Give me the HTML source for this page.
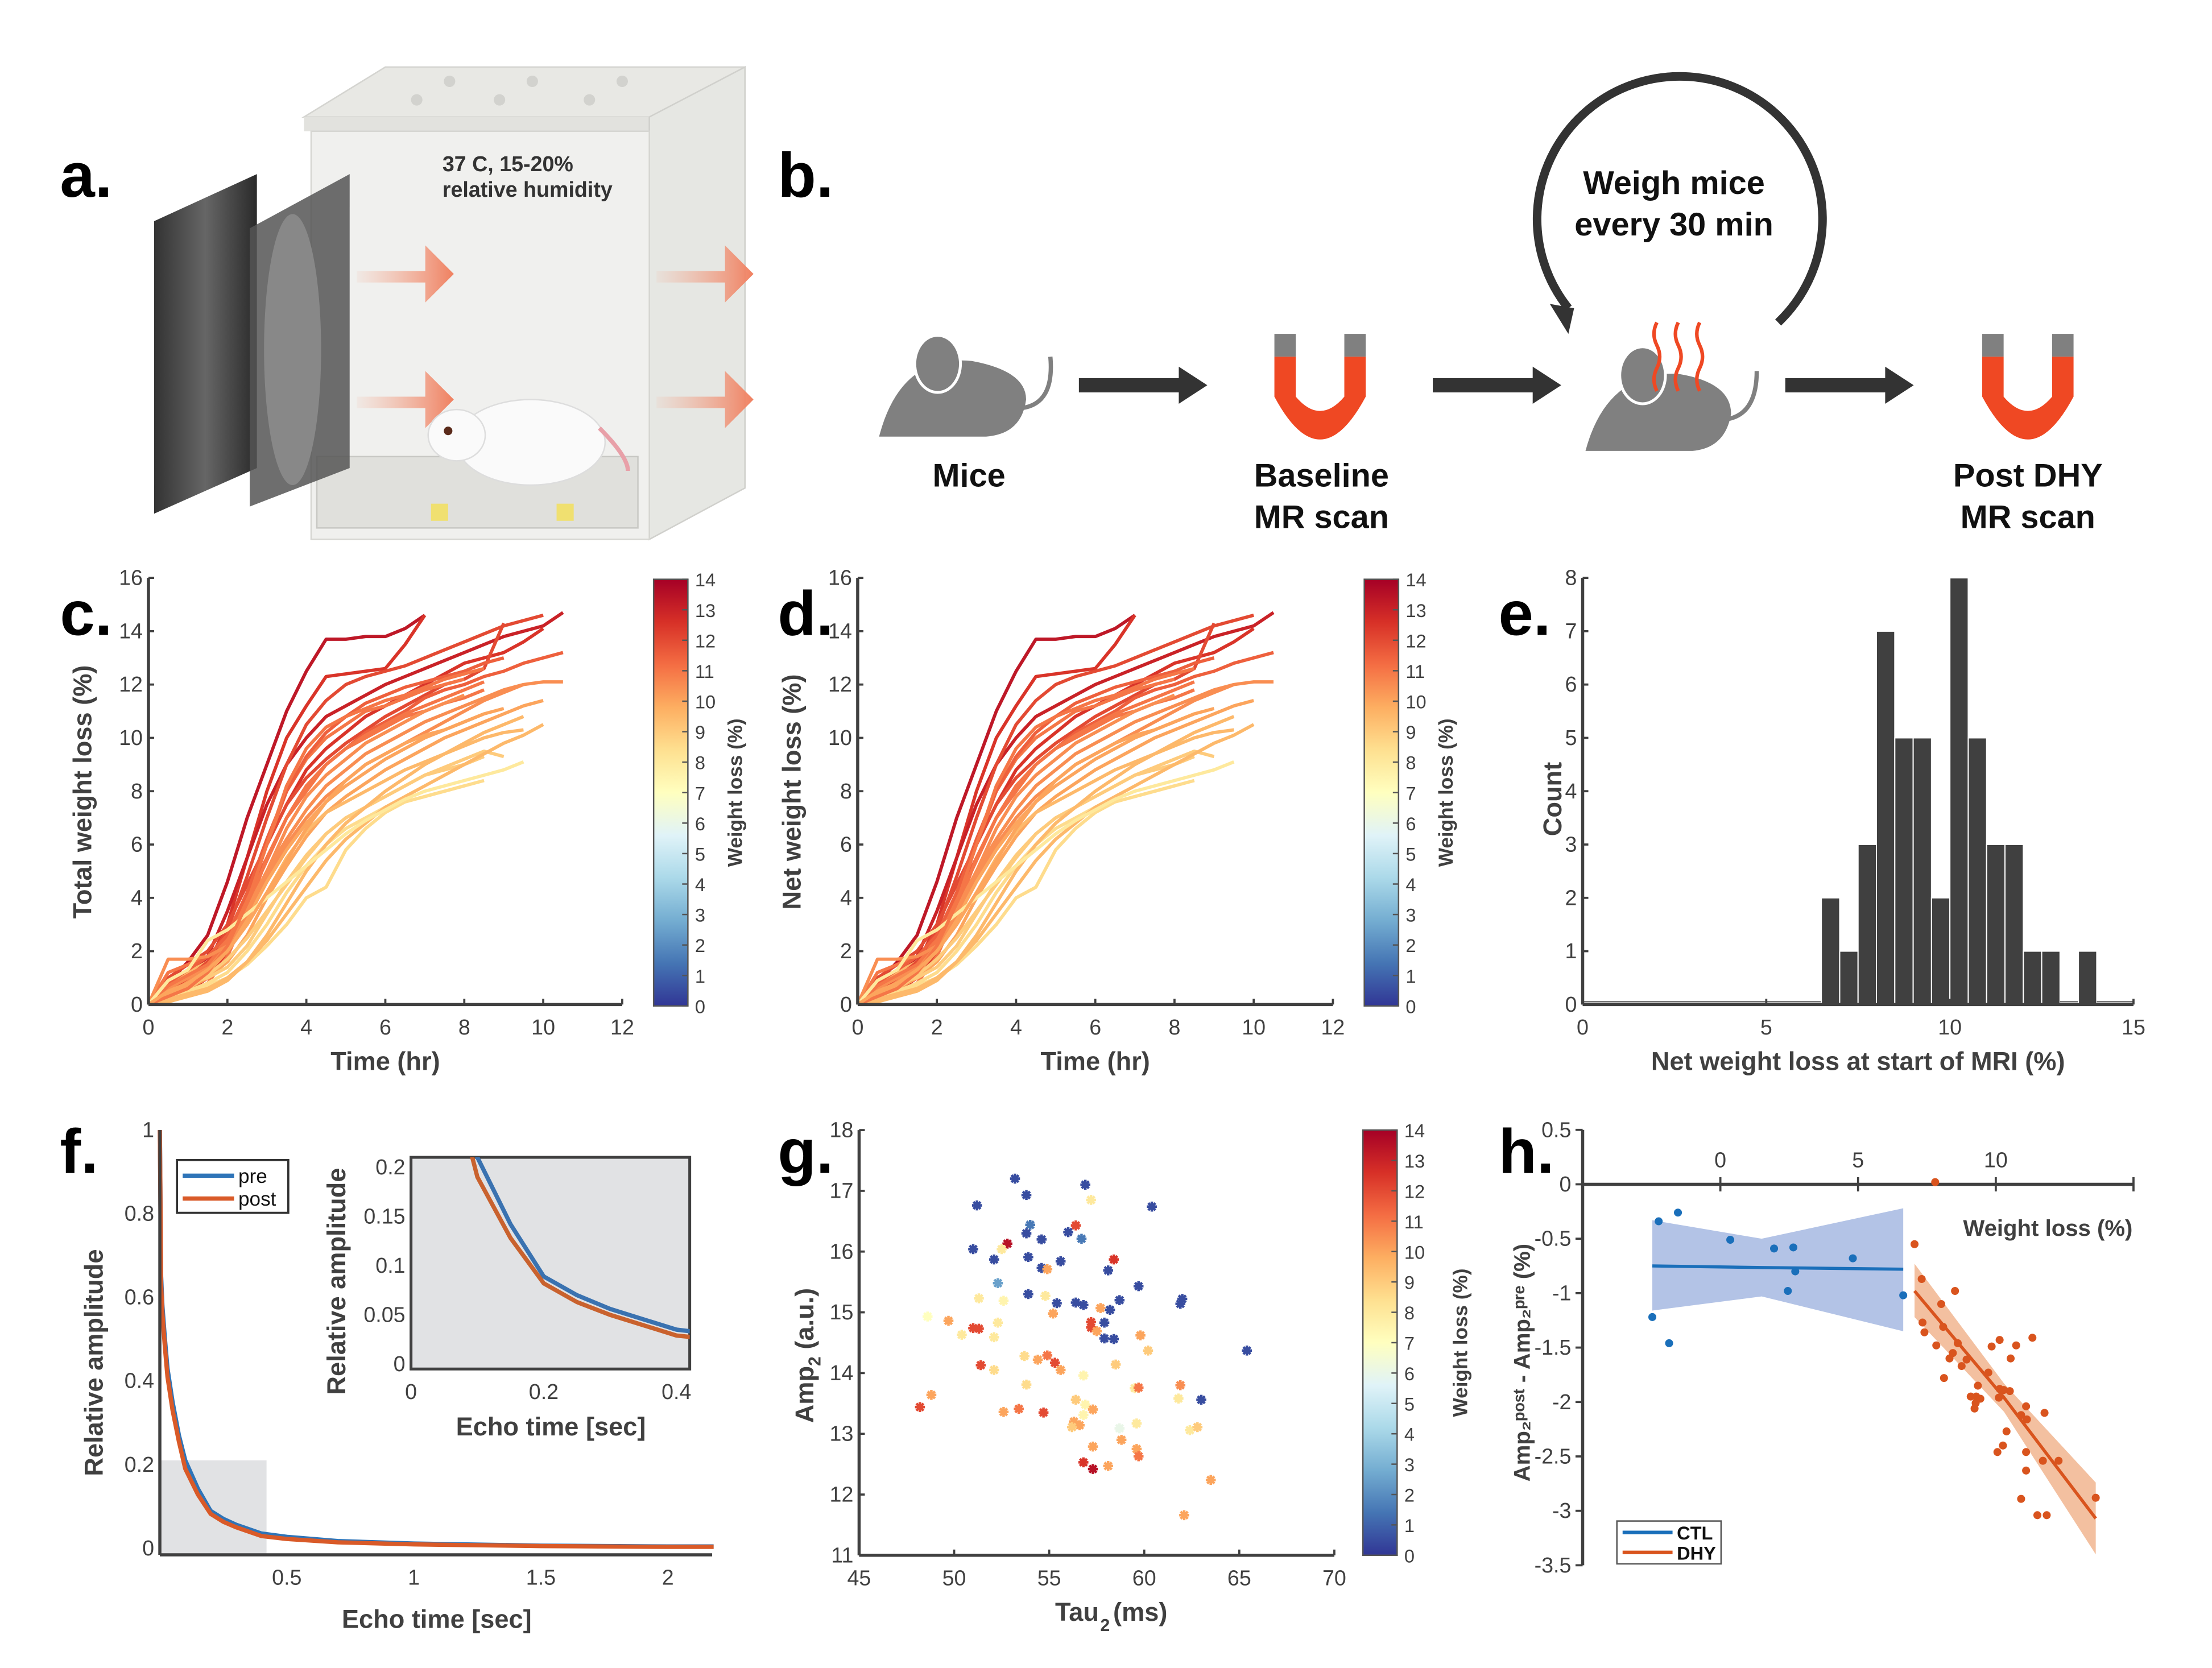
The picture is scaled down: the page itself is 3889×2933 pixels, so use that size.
<!DOCTYPE html>
<html><head><meta charset="utf-8"><style>
html,body{margin:0;padding:0;background:#fff;}
svg{display:block;}
text{font-family:"Liberation Sans Narrow","Liberation Sans",sans-serif;fill:#404040;}
.tk{font-size:15px;}
.lab{font-size:18px;font-weight:bold;font-family:"Liberation Sans",sans-serif;}
.pl{font-size:44px;font-weight:bold;font-family:"Liberation Sans",sans-serif;fill:#000;}
.bt{font-size:23px;font-weight:bold;font-family:"Liberation Sans",sans-serif;fill:#111;}
</style></head><body>
<svg id="fig" xmlns="http://www.w3.org/2000/svg" width="3889" height="2933" viewBox="0 0 1550 1169">
<defs>
<linearGradient id="cmap" x1="0" y1="1" x2="0" y2="0">
<stop offset="0" stop-color="#313695"/><stop offset="0.1" stop-color="#4575b4"/><stop offset="0.2" stop-color="#74add1"/><stop offset="0.3" stop-color="#abd9e9"/><stop offset="0.4" stop-color="#e0f3f8"/><stop offset="0.5" stop-color="#ffffbf"/><stop offset="0.6" stop-color="#fee090"/><stop offset="0.7" stop-color="#fdae61"/><stop offset="0.8" stop-color="#f46d43"/><stop offset="0.9" stop-color="#d73027"/><stop offset="1" stop-color="#a50026"/>
</linearGradient>
<linearGradient id="arrowG" x1="0" x2="1"><stop offset="0" stop-color="#f4a58a" stop-opacity="0.1"/><stop offset="1" stop-color="#f08060"/></linearGradient>
<linearGradient id="fanG" x1="0" x2="1"><stop offset="0" stop-color="#333"/><stop offset="0.5" stop-color="#666"/><stop offset="1" stop-color="#2a2a2a"/></linearGradient>
</defs>

<!-- Panel a -->
<g>
<text class="pl" x="42" y="138">a.</text>
<polygon points="213,82 270,47 522,47 455,82" fill="#e8e8e4" stroke="#d4d4d0"/>
<rect x="213" y="82" width="242" height="10" fill="#e2e2de"/>
<polygon points="455,82 522,47 522,342 455,378" fill="#e6e7e3" stroke="#d0d0cc"/>
<rect x="218" y="92" width="237" height="286" fill="#f0f0ee" stroke="#d6d6d2"/>
<g fill="#d2d2ce"><circle cx="315" cy="57" r="4"/><circle cx="373" cy="57" r="4"/><circle cx="436" cy="57" r="4"/><circle cx="292" cy="70" r="4"/><circle cx="350" cy="70" r="4"/><circle cx="413" cy="70" r="4"/></g>
<rect x="222" y="320" width="225" height="50" fill="#e0e0dc" stroke="#c8c8c4"/>
<rect x="302" y="353" width="12" height="12" fill="#f0e070"/><rect x="390" y="353" width="12" height="12" fill="#f0e070"/>
<polygon points="108,155 180,122 180,328 108,360" fill="url(#fanG)"/>
<polygon points="175,160 245,122 245,328 175,355" fill="#555" opacity="0.85"/>
<ellipse cx="205" cy="245" rx="20" ry="95" fill="#888"/>
<path d="M250,190 L298,190 L298,172 L318,192 L298,212 L298,198 L250,198Z" fill="url(#arrowG)"/>
<path d="M250,278 L298,278 L298,260 L318,280 L298,300 L298,286 L250,286Z" fill="url(#arrowG)"/>
<path d="M460,190 L508,190 L508,172 L528,192 L508,212 L508,198 L460,198Z" fill="url(#arrowG)"/>
<path d="M460,278 L508,278 L508,260 L528,280 L508,300 L508,286 L460,286Z" fill="url(#arrowG)"/>
<ellipse cx="372" cy="310" rx="52" ry="30" fill="#fafafa" stroke="#ddd"/>
<ellipse cx="320" cy="305" rx="20" ry="18" fill="#fafafa" stroke="#ddd"/>
<circle cx="314" cy="302" r="3" fill="#5a2a1a"/>
<path d="M420,300 Q440,320 440,330" stroke="#e8a0a8" stroke-width="3" fill="none"/>
<text x="310" y="120" style="font-size:15px;font-weight:bold;fill:#333">37 C, 15-20%</text>
<text x="310" y="138" style="font-size:15px;font-weight:bold;fill:#333">relative humidity</text>
</g>

<!-- Panel b -->
<g transform="translate(-9,-2)">
<text class="pl" x="554" y="140">b.</text>
<g fill="#808080">
<path d="M625,308 Q640,250 690,255 Q728,262 728,282 Q725,306 700,308 Z"/>
<ellipse cx="666" cy="257" rx="16" ry="20" fill="#808080" stroke="#fff" stroke-width="2"/>
<path d="M725,288 Q748,285 745,252" stroke="#808080" stroke-width="3" fill="none"/>
</g>
<text class="bt" x="688" y="343" text-anchor="middle">Mice</text>
<path d="M765,267 L835,267 L835,259 L855,272 L835,285 L835,277 L765,277Z" fill="#333"/>
<g>
<rect x="902" y="236" width="15" height="16" fill="#808080"/><rect x="951" y="236" width="15" height="16" fill="#808080"/>
<path d="M902,252 L917,252 L917,280 Q934,300 951,280 L951,252 L966,252 L966,280 Q934,340 902,280Z" fill="#ef4823"/>
</g>
<text class="bt" x="935" y="343" text-anchor="middle">Baseline</text>
<text class="bt" x="935" y="372" text-anchor="middle">MR scan</text>
<path d="M1013,267 L1083,267 L1083,259 L1103,272 L1083,285 L1083,277 L1013,277Z" fill="#333"/>
<path d="M1108,218 A100,100 0 1 1 1255,228" stroke="#333" stroke-width="6" fill="none"/>
<polygon points="1095,215 1112,218 1108,236" fill="#333"/>
<text class="bt" x="1182" y="138" text-anchor="middle">Weigh mice</text>
<text class="bt" x="1182" y="167" text-anchor="middle">every 30 min</text>
<g fill="#808080">
<path d="M1120,318 Q1135,262 1185,264 Q1222,270 1222,292 Q1218,316 1195,318 Z"/>
<ellipse cx="1160" cy="265" rx="16" ry="20" stroke="#fff" stroke-width="2"/>
<path d="M1218,296 Q1240,293 1240,262" stroke="#808080" stroke-width="3" fill="none"/>
<path d="M1170,228 q-4,8 0,16 q4,8 0,16 q-4,8 0,16" stroke="#ef4823" stroke-width="2.5" fill="none"/>
<path d="M1185,228 q-4,8 0,16 q4,8 0,16 q-4,8 0,16" stroke="#ef4823" stroke-width="2.5" fill="none"/>
<path d="M1200,228 q-4,8 0,16 q4,8 0,16 q-4,8 0,16" stroke="#ef4823" stroke-width="2.5" fill="none"/>
</g>
<path d="M1260,267 L1330,267 L1330,259 L1350,272 L1330,285 L1330,277 L1260,277Z" fill="#333"/>
<g>
<rect x="1398" y="236" width="15" height="16" fill="#808080"/><rect x="1447" y="236" width="15" height="16" fill="#808080"/>
<path d="M1398,252 L1413,252 L1413,280 Q1430,300 1447,280 L1447,252 L1462,252 L1462,280 Q1430,340 1398,280Z" fill="#ef4823"/>
</g>
<text class="bt" x="1430" y="343" text-anchor="middle">Post DHY</text>
<text class="bt" x="1430" y="372" text-anchor="middle">MR scan</text>
</g>

<text class="pl" x="42" y="445">c.</text>
<text class="pl" x="545" y="445">d.</text>
<text class="pl" x="1050" y="445">e.</text>
<text class="pl" x="42" y="822">f.</text>
<text class="pl" x="545" y="822">g.</text>
<text class="pl" x="1050" y="822">h.</text>
<g id="charts"></g>
</svg>
<script>
// ---------- DATA ----------
const halfHourTimes = [0,0.5,1,1.5,2,2.5,3,3.5,4,4.5,5,5.5,6,6.5,7,7.5,8,8.5,9,9.5,10,10.5];
const weightLossLines = [
 [0,0.8,1.6,2.6,4.6,7,9,11,12.5,13.7,13.7,13.8,13.8,14.1,14.6],
 [0,0.3,0.6,1.5,3,5.5,8,10,11.2,12.3,12.4,12.5,12.6,13.5,14.6],
 [0,0.5,1,1.8,3.5,5.5,7.5,9,10,10.8,11.2,11.6,12,12.3,12.6,12.9,13.2,13.5,13.8,14,14.2,14.7],
 [0,0.2,0.5,1,2,4,6,7.5,8.8,9.6,10.2,10.8,11.2,11.6,12,12.4,12.8,13,13.2,13.6,14.1],
 [0,1,1.5,2,3,4.5,6,7.5,8.5,9.2,9.8,10.3,10.8,11.2,11.6,12,12.2,12.6,14.3],
 [0,0.4,0.8,1.5,2.5,4,5.5,7,8.2,9,9.6,10.2,10.6,11,11.5,11.8,12,12.3,12.5,12.8,13,13.2],
 [0,0.2,0.4,0.8,1.8,3.5,5.5,7,8,9,9.6,10,10.4,10.8,11,11.3,11.5,11.8],
 [0,0.5,0.9,1.4,2.2,3.6,5,6.2,7.3,8.2,8.8,9.4,9.8,10.2,10.6,10.9,11.2,11.5,11.8,12],
 [0,0.3,0.6,1,1.6,2.6,4,5.2,6.3,7.2,7.8,8.3,8.8,9.2,9.6,10,10.3,10.6,10.9,11.2,11.4],
 [0,0.6,1.2,1.6,2,3,4.2,5.5,6.5,7.2,7.6,8,8.4,8.8,9.1,9.4,9.7,10,10.2,10.3],
 [0,0.4,0.8,1,1.4,2.2,3.4,4.6,5.6,6.4,7,7.4,7.8,8.2,8.6,8.8,9,9.3],
 [0,0.2,0.5,0.8,1.2,2,3,4.2,5.2,6,6.6,7,7.4,7.6,7.8,8,8.2],
 [0,0.3,0.6,1.1,1.7,2.5,3.5,4.5,5.5,6.4,7,7.4,7.8,8.2,8.6,8.9,9.2,9.5,9.3],
 [0,1.2,1.5,1.8,2.5,4,6,8,9.2,10,10.5,11,11.2,11.5,11.8,12,12.2],
 [0,0.3,0.5,0.7,1,1.5,2.2,3,4,4.4,5.8,6.6,7.2,7.6,7.8,8,8.2,8.4],
 [0,0.5,1,1.6,2.8,4.8,7,9,10.5,11.4,12,12.3,12.5,12.7,13,13.3,13.6,13.9,14.2,14.4,14.6],
 [0,0.2,0.4,0.6,1,1.6,2.4,3.4,4.4,5.4,6.2,6.8,7.4,7.8,8.2,8.6,9,9.4,9.8,10.1,10.5],
 [0,0.6,1,1.4,2.2,3.4,4.8,6,7,7.8,8.4,9,9.4,9.8,10.2,10.6,11,11.4,11.7,12,12.1,12.1],
 [0,0.8,1.3,1.8,2.6,4.2,6.2,8,9.3,10.2,10.8,11.3,11.6,11.9,12.1,12.3,12.5,12.8,13],
 [0,0.4,0.7,1.2,2,3.2,4.6,5.8,6.8,7.6,8.2,8.7,9.2,9.6,10,10.3,10.6,10.9],
 [0,0.1,0.3,0.5,0.9,1.6,2.6,3.8,5,6,6.8,7.4,8,8.5,9,9.4,9.8,10.2,10.5,10.8],
 [0,0.7,1.1,1.5,2.4,3.8,5.4,7,8.2,9,9.6,10.1,10.5,10.9,11.2,11.5,11.8,12.1],
 [0,1.7,1.7,1.8,2.2,3.4,5,6.6,7.8,8.6,9.2,9.8,10.2,10.6,11,11.3,11.6],
 [0,0.9,1.3,2.4,2.8,3.4,4,4.6,5.2,5.8,6.4,6.9,7.3,7.7,8,8.2,8.4,8.6,8.8,9.1],
 [0,0.3,0.6,1.2,2.2,3.8,6,8.2,9.6,10.4,10.8,11.1,11.4,11.6,11.9,12.2,12.4,12.6],
 [0,0.5,0.8,1.3,2,3,4.2,5.4,6.6,7.6,8.4,9,9.4,9.8,10.1,10.3,10.6,10.9,11.1]
];
const lineWeightLoss = [13.3,12.5,13,12.5,12,11.5,11,10.5,10,9.5,9,8.5,9,11,8.5,12,9.5,10.5,11.5,10,9.5,11,10.5,8,11,10];
const histBinStarts = [6.5,7,7.5,8,8.5,9,9.5,10,10.5,11,11.5,12,12.5,13,13.5];
const histCounts = [2,1,3,7,5,5,2,8,5,3,3,1,1,0,1];
const echoTimes = [0,0.005,0.01,0.02,0.03,0.05,0.075,0.1,0.15,0.2,0.25,0.3,0.4,0.5,0.7,1,1.5,2,2.18];
const ampPre  = [1,0.65,0.58,0.5,0.43,0.35,0.27,0.21,0.142,0.089,0.07,0.056,0.035,0.027,0.017,0.011,0.006,0.004,0.004];
const ampPost = [1,0.63,0.56,0.48,0.41,0.33,0.255,0.19,0.128,0.082,0.063,0.05,0.029,0.022,0.014,0.009,0.005,0.003,0.003];
const gTau = [53.2,56.9,57.2,51.2,53.8,60.4,54.0,53.8,54.6,56.0,56.4,56.7,52.8,52.5,51.0,52.1,53.9,55.6,58.4,54.6,54.9,58.1,52.3,59.7,53.9,51.3,52.6,54.8,55.4,56.4,56.8,58.7,57.7,58.2,61.9,62.0,55.2,48.6,49.7,52.3,57.2,57.2,57.9,51.0,51.3,57.5,50.4,52.1,57.9,58.4,59.8,60.2,65.4,53.7,54.4,54.9,55.3,55.6,51.4,52.1,58.5,56.8,53.8,59.5,59.7,61.9,61.8,63.0,48.8,48.2,56.4,56.9,57.3,56.8,52.6,53.4,54.7,56.3,56.6,56.2,58.7,59.6,62.4,62.8,58.8,57.3,59.6,59.7,56.8,57.3,58.1,63.5,62.1];
const gAmp = [17.2,17.1,16.85,16.76,16.93,16.74,16.44,16.3,16.2,16.32,16.43,16.21,16.13,16.04,16.04,15.87,15.91,15.84,15.87,15.73,15.71,15.69,15.48,15.43,15.3,15.23,15.19,15.27,15.15,15.16,15.12,15.2,15.07,15.04,15.14,15.22,14.98,14.93,14.86,14.83,14.84,14.75,14.83,14.74,14.73,14.69,14.63,14.59,14.57,14.56,14.62,14.37,14.37,14.28,14.22,14.29,14.17,14.05,14.13,14.05,14.14,13.96,13.81,13.75,13.76,13.8,13.58,13.56,13.64,13.44,13.56,13.48,13.4,13.31,13.36,13.41,13.35,13.2,13.14,13.11,13.09,13.17,13.06,13.11,12.9,12.79,12.75,12.63,12.53,12.42,12.47,12.24,11.66];
const gLoss = [0.5,0.5,8,0.5,0.5,0.5,1.5,0.5,0.5,0.5,12,1.5,13.5,8,0.5,0.5,0.5,0.5,12.5,0.5,10,0.5,2.5,0.5,0.5,8,7.5,8,0.5,0.5,0.5,0.5,10,0.5,0.5,0.5,10,7,10,8,12,12,0.5,12,12,10,8,8,0.5,0.5,10,9,0.5,8.5,10,11,12,10,12,8.5,9,7.5,8.5,8,11,10.5,8,0.5,10,12,9,7.5,10,7.5,10,11,12,10,10,9,6,8,8,9,10,10,10,11,12.5,13.5,10,10,10];
const ctlX = [-2.47,-2.24,-1.54,-1.86,0.36,1.95,2.65,2.72,2.45,4.81,6.64];
const ctlY = [-1.22,-0.34,-0.26,-1.46,-0.51,-0.59,-0.58,-0.8,-0.98,-0.68,-1.02];
const dhyX = [7.05,7.31,7.34,7.41,7.84,8.02,8.09,8.52,8.62,8.44,8.32,8.12,8.76,8.94,9.35,9.09,9.29,9.27,9.44,9.23,9.73,9.85,10.14,10.14,10.29,10.11,10.51,10.54,10.74,11.33,11.1,10.92,11.13,11.77,10.39,10.26,10.06,11.1,11.1,11.71,12.28,10.92,11.51,11.85,13.63,7.8];
const dhyY = [-0.55,-0.87,-1.27,-1.36,-1.48,-1.1,-1.31,-0.98,-1.46,-1.55,-1.6,-1.78,-1.67,-1.61,-1.85,-1.95,-1.95,-2.01,-1.97,-2.06,-1.73,-1.49,-1.43,-1.88,-1.89,-1.96,-1.9,-1.6,-1.48,-1.41,-2.04,-2.12,-2.16,-2.1,-2.27,-2.4,-2.46,-2.46,-2.63,-2.54,-2.54,-2.89,-3.04,-3.04,-2.88,0.02];
const ctlFitX = [-2.47,1.5,6.64];
const ctlFitY = [-0.75,-0.765,-0.78];
const ctlUpper = [-0.33,-0.5,-0.22];
const ctlLower = [-1.16,-1.03,-1.35];
const dhyFitX = [7.05,10.3,13.63];
const dhyFitY = [-0.98,-1.96,-3.07];
const dhyUpper = [-0.73,-1.83,-2.74];
const dhyLower = [-1.22,-2.09,-3.4];
const ticks0to12 = [0,2,4,6,8,10,12];
const ticks0to16 = [0,2,4,6,8,10,12,14,16];
const cbarTicks = [0,1,2,3,4,5,6,7,8,9,10,11,12,13,14];

// ---------- HELPERS ----------
const NS='http://www.w3.org/2000/svg';
const root=document.getElementById('charts');
function mk(tag,attrs,parent){const e=document.createElementNS(NS,tag);for(const k in attrs)e.setAttribute(k,attrs[k]);(parent||root).appendChild(e);return e;}
function lin(d0,d1,r0,r1){return v=>r0+(v-d0)*(r1-r0)/(d1-d0);}
const stops=[[49,54,149],[69,117,180],[116,173,209],[171,217,233],[224,243,248],[255,255,191],[254,224,144],[253,174,97],[244,109,67],[215,48,39],[165,0,38]];
function cmap(v){let t=Math.max(0,Math.min(1,v/14))*10;const i=Math.min(9,Math.floor(t));const f=t-i;const a=stops[i],b=stops[i+1];return `rgb(${Math.round(a[0]+(b[0]-a[0])*f)},${Math.round(a[1]+(b[1]-a[1])*f)},${Math.round(a[2]+(b[2]-a[2])*f)})`;}
const AX='#404040';
function text(x,y,s,cls,extra){const t=mk('text',Object.assign({x:x,y:y,class:cls},extra||{}));t.textContent=s;return t;}

function axisLeft(xp,sy,ticks,y0,y1,fmt){
  const l=mk('line',{x1:xp,x2:xp,y1:sy(y0),y2:sy(y1),stroke:AX,'stroke-width':2.2});
  
  
  ticks.forEach(v=>{mk('line',{x1:xp,x2:xp+4,y1:sy(v),y2:sy(v),stroke:AX,'stroke-width':1.5});
    const t=text(xp-4,sy(v)+5,fmt?fmt(v):String(v),'tk',{'text-anchor':'end'});
    
    });
}
function axisBottom(yp,sx,ticks,x0,x1,fmt){
  const l=mk('line',{x1:sx(x0),x2:sx(x1),y1:yp,y2:yp,stroke:AX,'stroke-width':2.2});
  
  
  ticks.forEach(v=>{mk('line',{x1:sx(v),x2:sx(v),y1:yp,y2:yp-4,stroke:AX,'stroke-width':1.5});
    const t=text(sx(v),yp+21,fmt?fmt(v):String(v),'tk',{'text-anchor':'middle'});
    
    });
}
function colorbar(x,yTop,yBot,labelX){
  const r=mk('rect',{x:x,y:yTop,width:24,height:yBot-yTop,fill:'url(#cmap)',stroke:'#555','stroke-width':1});
  
  
  const s=lin(0,14,yBot,yTop);
  cbarTicks.forEach(v=>{mk('line',{x1:x+24,x2:x+20,y1:s(v),y2:s(v),stroke:'#555','stroke-width':1});
    const t=text(x+29,s(v)+5,String(v),'tk',{style:'font-size:13px'});
    
    });
  const l=text(labelX,(yTop+yBot)/2,'Weight loss (%)','lab',{'text-anchor':'middle',transform:`rotate(-90 ${labelX} ${(yTop+yBot)/2})`,style:'font-size:14px'});
  
  
}

// ---------- Panels c & d ----------
function linesPanel(x0,x1,yAxisLabel,name,cbx){
  const sx=lin(0,12,x0,x1), sy=lin(0,16,704,405);
  const g=mk('g',{});
  
  
  weightLossLines.forEach((arr,k)=>{
    const pts=arr.map((v,i)=>sx(halfHourTimes[i])+','+sy(v)).join(' ');
    const p=mk('polyline',{points:pts,fill:'none',stroke:cmap(lineWeightLoss[k]),'stroke-width':2.3,'stroke-linejoin':'round'},g);
    
    
  });
  axisLeft(x0,sy,ticks0to16,0,16);
  axisBottom(704,sx,ticks0to12,0,12);
  const xl=text((x0+x1)/2,750,'Time (hr)','lab',{'text-anchor':'middle'});
  
  
  const yl=text(x0-40,555,yAxisLabel,'lab',{'text-anchor':'middle',transform:`rotate(-90 ${x0-40} 555)`});
  
  
  colorbar(cbx,406,705,cbx+62);
}
linesPanel(104,436,'Total weight loss (%)','panel-c-total-weight-loss',458);
linesPanel(601,934,'Net weight loss (%)','panel-d-net-weight-loss',956);

// ---------- Panel e ----------
(function(){
  const sx=lin(0,15,1109,1495), sy=lin(0,8,704,405);
  mk('line',{x1:sx(0),x2:sx(6.5),y1:sy(0)-2,y2:sy(0)-2,stroke:'#777','stroke-width':1});
  histBinStarts.forEach((b,i)=>{
    if(histCounts[i]===0){mk('line',{x1:sx(b),x2:sx(b+0.5),y1:sy(0)-2,y2:sy(0)-2,stroke:'#777','stroke-width':1});return;}
    const r=mk('rect',{x:sx(b),y:sy(histCounts[i]),width:sx(b+0.5)-sx(b),height:sy(0)-sy(histCounts[i]),fill:'#404040',stroke:'#fff','stroke-width':0.8});
    
    
  });
  mk('line',{x1:sx(14),x2:sx(15),y1:sy(0)-2,y2:sy(0)-2,stroke:'#777','stroke-width':1});
  axisLeft(1109,sy,[0,1,2,3,4,5,6,7,8],0,8);
  axisBottom(704,sx,[0,5,10,15],0,15);
  const xl=text(1302,750,'Net weight loss at start of MRI (%)','lab',{'text-anchor':'middle'});
  
  
  const yl=text(1094,560,'Count','lab',{'text-anchor':'middle',transform:'rotate(-90 1094 560)'});
  
  
})();

// ---------- Panel f ----------
(function(){
  const sx=lin(0,1,112,290), sy=lin(0,1,1085,792);
  const r=mk('rect',{x:sx(0),y:sy(0.21),width:sx(0.42)-sx(0),height:sy(-0.016)-sy(0.21),fill:'#e1e2e4'});
  
  
  const pp=mk('polyline',{points:echoTimes.map((t,i)=>sx(t)+','+sy(ampPre[i])).join(' '),fill:'none',stroke:'#2e74b8','stroke-width':3});
  
  
  const pq=mk('polyline',{points:echoTimes.map((t,i)=>sx(t)+','+sy(ampPost[i])).join(' '),fill:'none',stroke:'#d95a28','stroke-width':3});
  
  
  const yb=sy(-0.016);
  mk('line',{x1:112,x2:499,y1:yb,y2:yb,stroke:AX,'stroke-width':2.2});
  mk('line',{x1:112,x2:112,y1:yb,y2:sy(1),stroke:AX,'stroke-width':2.2});
  [0.5,1,1.5,2].forEach(v=>{const t=text(sx(v),yb+21,String(v),'tk',{'text-anchor':'middle'});
    
    });
  [0,0.2,0.4,0.6,0.8,1].forEach(v=>{const t=text(108,sy(v)+5,String(v),'tk',{'text-anchor':'end'});
    
    });
  const xl=text(306,1141,'Echo time [sec]','lab',{'text-anchor':'middle'});
  
  
  const yl=text(72,955,'Relative amplitude','lab',{'text-anchor':'middle',transform:'rotate(-90 72 955)'});
  
  
  const lg=mk('g',{});
  
  
  mk('rect',{x:124,y:813,width:78,height:37,fill:'#fff',stroke:'#333','stroke-width':1.5},lg);
  mk('line',{x1:128,x2:164,y1:824,y2:824,stroke:'#2e74b8','stroke-width':3},lg);
  mk('line',{x1:128,x2:164,y1:840,y2:840,stroke:'#d95a28','stroke-width':3},lg);
  const t1=text(167,829,'pre','tk',{style:'font-size:14px;fill:#111'});
  
  
  const t2=text(167,845,'post','tk',{style:'font-size:14px;fill:#111'});
  
  
  const ix=lin(0,0.4,288,474), iy=lin(0,0.2,956,818);
  const ib=mk('rect',{x:ix(0),y:iy(0.21),width:ix(0.42)-ix(0),height:iy(-0.005)-iy(0.21),fill:'#e1e2e4',stroke:AX,'stroke-width':2});
  
  
  const clip=mk('clipPath',{id:'insetClip'});
  mk('rect',{x:ix(0),y:iy(0.21),width:ix(0.42)-ix(0),height:iy(-0.005)-iy(0.21)},clip);
  const a=mk('polyline',{points:echoTimes.map((t,i)=>ix(t)+','+iy(ampPre[i])).join(' '),fill:'none',stroke:'#3a72b0','stroke-width':3,'clip-path':'url(#insetClip)'});
  
  
  const b=mk('polyline',{points:echoTimes.map((t,i)=>ix(t)+','+iy(ampPost[i])).join(' '),fill:'none',stroke:'#c9622e','stroke-width':3,'clip-path':'url(#insetClip)'});
  
  
  [0,0.2,0.4].forEach(v=>{const t=text(ix(v),iy(-0.005)+21,String(v),'tk',{'text-anchor':'middle'});
    
    });
  [0,0.05,0.1,0.15,0.2].forEach(v=>{const t=text(ix(0)-4,iy(v)+5,String(v),'tk',{'text-anchor':'end'});
    
    });
  const ixl=text(386,1006,'Echo time [sec]','lab',{'text-anchor':'middle'});
  
  
  const iyl=text(242,898,'Relative amplitude','lab',{'text-anchor':'middle',transform:'rotate(-90 242 898)'});
  
  
})();

// ---------- Panel g ----------
(function(){
  const sx=lin(45,70,602,935), sy=lin(11,18,1090,792);
  gTau.forEach((t,i)=>{
    const x=sx(t),y=sy(gAmp[i]),c=cmap(gLoss[i]);
    const p=mk('path',{d:`M${x-3.5},${y}h7M${x},${y-3.5}v7M${x-2.5},${y-2.5}l5,5M${x+2.5},${y-2.5}l-5,5`,stroke:c,'stroke-width':1.8});
    
    
  });
  axisLeft(602,sy,[11,12,13,14,15,16,17,18],11,18);
  axisBottom(1090,sx,[45,50,55,60,65,70],45,70);
  const xl=text(770,1136,'Tau','lab',{'text-anchor':'end'});
  
  
  text(771,1143,'2','lab',{style:'font-size:12px'});
  text(780,1136,'(ms)','lab');
  const yl=mk('text',{x:570,y:950,class:'lab','text-anchor':'middle',transform:'rotate(-90 570 950)'});
  yl.innerHTML='Amp<tspan dy="5" style="font-size:12px">2</tspan><tspan dy="-5"> (a.u.)</tspan>';
  
  
  colorbar(955,792,1090,1028);
})();

// ---------- Panel h ----------
(function(){
  const sx=lin(-5,15,1109,1495), sy=lin(0,-3.5,830,1097);
  const band=(fx,up,lo,fill,nm)=>{
    const d='M'+fx.map((x,i)=>sx(x)+','+sy(up[i])).join(' L')+' L'+fx.slice().reverse().map((x,i)=>sx(x)+','+sy(lo[lo.length-1-i])).join(' L')+'Z';
    const p=mk('path',{d:d,fill:fill});
    
    
  };
  band(ctlFitX,ctlUpper,ctlLower,'#b3c3e6','ctl-confidence-band');
  band(dhyFitX,dhyUpper,dhyLower,'#f3c0a0','dhy-confidence-band');
  const l1=mk('polyline',{points:ctlFitX.map((x,i)=>sx(x)+','+sy(ctlFitY[i])).join(' '),fill:'none',stroke:'#1a6fba','stroke-width':2.2});
  
  
  const l2=mk('polyline',{points:dhyFitX.map((x,i)=>sx(x)+','+sy(dhyFitY[i])).join(' '),fill:'none',stroke:'#d9541e','stroke-width':2.2});
  
  
  mk('line',{x1:1109,x2:1109,y1:sy(0.5),y2:sy(-3.5),stroke:AX,'stroke-width':2.2});
  mk('line',{x1:sx(-5),x2:sx(15),y1:sy(0),y2:sy(0),stroke:AX,'stroke-width':2.2});
  [0.5,0,-0.5,-1,-1.5,-2,-2.5,-3,-3.5].forEach(v=>{mk('line',{x1:1104,x2:1109,y1:sy(v),y2:sy(v),stroke:AX,'stroke-width':1.5});
    const t=text(1101,sy(v)+5,String(v),'tk',{'text-anchor':'end'});
    
    });
  [0,5,10,15].forEach(v=>{mk('line',{x1:sx(v),x2:sx(v),y1:sy(0)-5,y2:sy(0)+5,stroke:AX,'stroke-width':1.5});});
  [0,5,10].forEach(v=>{const t=text(sx(v),sy(0)-12,String(v),'tk',{'text-anchor':'middle'});
    
    });
  ctlX.forEach((x,i)=>{const c=mk('circle',{cx:sx(x),cy:sy(ctlY[i]),r:2.8,fill:'#1a6fba'});
    
    });
  dhyX.forEach((x,i)=>{const c=mk('circle',{cx:sx(x),cy:sy(dhyY[i]),r:2.8,fill:'#d9541e'});
    
    });
  const xl=text(1435,866,'Weight loss (%)','lab',{'text-anchor':'middle',style:'font-size:16px'});
  
  
  const yl=text(1072,955,'Amp\u2082\u1d56\u1d52\u02e2\u1d57 - Amp\u2082\u1d56\u02b3\u1d49 (%)','lab',{'text-anchor':'middle',transform:'rotate(-90 1072 955)',style:'font-size:16px'});
  
  
  const lg=mk('g',{});
  
  
  mk('rect',{x:1133,y:1066,width:73,height:30,fill:'#fff',stroke:'#555','stroke-width':1},lg);
  mk('line',{x1:1137,x2:1172,y1:1074,y2:1074,stroke:'#1a6fba','stroke-width':2.5},lg);
  mk('line',{x1:1137,x2:1172,y1:1088,y2:1088,stroke:'#d9541e','stroke-width':2.5},lg);
  const a=text(1175,1079,'CTL','lab',{style:'font-size:13px;fill:#111'});
  
  
  const b=text(1175,1093,'DHY','lab',{style:'font-size:13px;fill:#111'});
  
  
})();
</script>
</body></html>
